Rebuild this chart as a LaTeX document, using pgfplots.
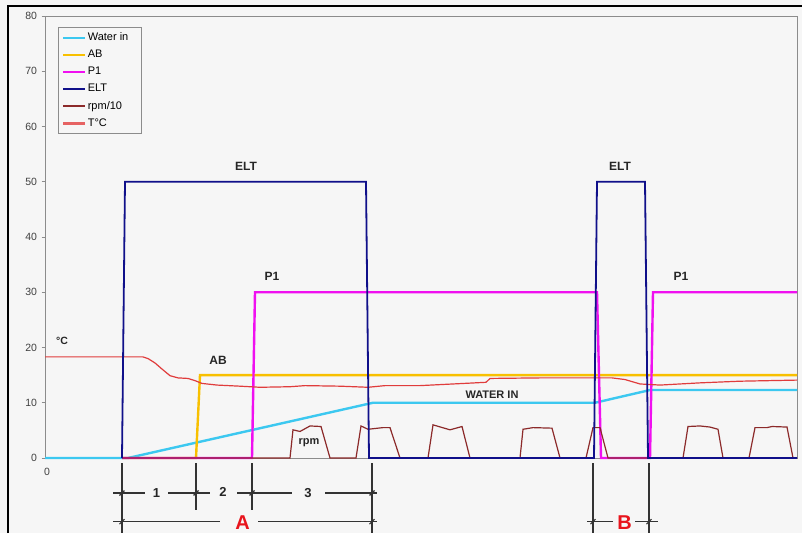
\documentclass[border=0pt]{standalone}
\usepackage{fontspec}
\setmainfont{Liberation Sans}
\usepackage{pgfplots}
\pgfplotsset{compat=1.18}
\definecolor{bg}{HTML}{F6F6F6}
\definecolor{cwater}{HTML}{3CC8F0}
\definecolor{cab}{HTML}{F8C000}
\definecolor{cpone}{HTML}{F010F0}
\definecolor{celt}{HTML}{10108A}
\definecolor{crpm}{HTML}{8C2A2A}
\definecolor{ctemp}{HTML}{E03C3C}
\definecolor{axgray}{HTML}{8C8C8C}
\definecolor{dimgray}{HTML}{333333}
\definecolor{lblred}{HTML}{E8141C}
\newcommand{\lf}{\fontsize{11}{13}\selectfont}
\begin{document}
\begin{tikzpicture}
\useasboundingbox (0pt,0pt) rectangle (802pt,533pt);
\fill[bg] (0pt,0pt) rectangle (802pt,533pt);
\draw[black, line width=1.6pt] (8pt,0pt) -- (8pt,527pt) -- (802pt,527pt);
\begin{axis}[
  at={(45pt,75pt)}, anchor=south west,
  scale only axis, width=752pt, height=442pt,
  xmin=45, xmax=797, ymin=0, ymax=80,
  clip=false,
  axis line style={draw=axgray, line width=1pt},
  ytick={0,10,...,80},
  ytick pos=left,
  xtick={45}, xticklabels={0},
  tick align=outside,
  major tick length=3.5pt,
  ytick style={draw=axgray, line width=0.8pt},
  xtick style={draw=none},
  xticklabel style={yshift=-3pt, xshift=2pt},
  yticklabel style={xshift=-1pt},
  tick label style={font=\fontsize{10.5}{12}\selectfont, text=black!75},
  /pgf/number format/assume math mode=true,
  legend style={at={(0.0173,0.975)}, anchor=north west, draw=axgray, line width=1.2pt, fill=bg,
    nodes={inner sep=1.5pt, text height=8pt, text depth=2.5pt},
    row sep=3.6pt, inner sep=3.5pt},
  legend cell align=left,
  legend image code/.code={\draw[#1,line width=2.2pt] (0pt,0pt) -- (22pt,0pt);},
]
% Water in
\addplot[cwater, line width=2.4pt, forget plot] coordinates {(45,0) (122,0) (128,0) (373,10) (595,10) (650,12.3) (797,12.3)};
% AB
\addplot[cab, line width=2.4pt, forget plot] coordinates {(122,0) (196,0) (200,15) (797,15)};
% P1
\addplot[cpone, line width=2.4pt, forget plot] coordinates {(122,0) (252,0) (255,30) (597,30) (601,0) (650,0) (653,30) (797,30)};
% rpm/10
\addplot[crpm, line width=1.2pt, forget plot] coordinates {
(122,0) (290,0) (293,5.1) (300,4.8) (310,5.8) (321,5.7) (330,0)
(356,0) (361,5.8) (368,5.2) (383,5.5) (390,5.5) (400,0)
(428,0) (433,6.0) (450,5.1) (462,5.7) (470,0)
(520,0) (523,5.2) (533,5.5) (552,5.4) (560,0)
(586,0) (593,5.5) (600,5.5) (608,0)
(683,0) (688,5.7) (700,5.8) (710,5.6) (718,5.2) (723,0)
(749,0) (755,5.5) (767,5.5) (772,5.7) (787,5.6) (793,0) (797,0)};
% T C
\addplot[ctemp, line width=1.2pt, forget plot] coordinates {
(45,18.3) (143,18.3) (148,18.0) (155,17.2) (162,16.1) (170,14.9) (178,14.5) (188,14.4) (195,14.0) (202,13.5) (217,13.2) (240,13.0) (260,12.8) (290,12.9) (305,13.1) (340,13.0) (368,12.8) (385,13.1) (420,13.1) (486,13.7) (490,14.4) (540,14.5) (612,14.5) (625,14.2) (640,13.4) (660,13.2) (700,13.6) (740,13.9) (797,14.1)};
% ELT
\addplot[celt, line width=1.8pt, forget plot] coordinates {(122,0) (125,50) (366,50) (369,0) (594,0) (597,50) (645,50) (648,0) (797,0)};

\addlegendimage{cwater}\addlegendentry{\lf Water in\hspace*{8pt}}
\addlegendimage{cab}\addlegendentry{\lf AB}
\addlegendimage{cpone}\addlegendentry{\lf P1}
\addlegendimage{celt}\addlegendentry{\lf ELT}
\addlegendimage{crpm}\addlegendentry{\lf rpm/10}
\addlegendimage{ctemp!80}\addlegendentry{\lf T°C}

\begin{scope}[every node/.style={font=\fontsize{12}{14}\selectfont\bfseries, text=black!85}]
\node at (axis cs:246,52.7) {ELT};
\node at (axis cs:620,52.7) {ELT};
\node at (axis cs:272,32.8) {P1};
\node at (axis cs:681,32.8) {P1};
\node[font=\fontsize{10.5}{12}\selectfont\bfseries] at (axis cs:62,21.2) {°C};
\node at (axis cs:218,17.7) {AB};
\node[font=\fontsize{11}{13}\selectfont\bfseries] at (axis cs:309,2.7) {rpm};
\node[font=\fontsize{11}{13}\selectfont\bfseries] at (axis cs:492,11.4) {WATER IN};
\end{scope}
\end{axis}
\begin{scope}[x=1pt, y=1pt, dimgray, line width=1.1pt]
% vertical extension lines
\draw (122,70) -- (122,0);
\draw (196,70) -- (196,23);
\draw (252,70) -- (252,23);
\draw (372,70) -- (372,0);
\draw (593,70) -- (593,0);
\draw (649,70) -- (649,0);
% dimension line 1-2-3
\draw (113,40) -- (145,40);
\draw (168,40) -- (210,40);
\draw (237,40) -- (292,40);
\draw (325,40) -- (377,40);
% dimension line A
\draw (113,11.3) -- (220,11.3);
\draw (258,11.3) -- (377,11.3);
% dimension line B
\draw (587,11.3) -- (613,11.3);
\draw (635,11.3) -- (658,11.3);
% slanted ticks
\foreach \xx/\yy in {122/40,196/40,252/40,372/40,122/11.3,372/11.3,593/11.3,649/11.3}
  \draw (\xx-2.5,\yy-2.5) -- (\xx+2.5,\yy+2.5);
\node[font=\fontsize{13}{15}\selectfont\bfseries, text=black!85] at (156.5,40) {1};
\node[font=\fontsize{13}{15}\selectfont\bfseries, text=black!85] at (223,41) {2};
\node[font=\fontsize{13}{15}\selectfont\bfseries, text=black!85] at (308,40) {3};
\node[font=\fontsize{20}{23}\selectfont\bfseries, text=lblred] at (242.5,10) {A};
\node[font=\fontsize{20}{23}\selectfont\bfseries, text=lblred] at (624.5,10) {B};
\end{scope}
\end{tikzpicture}
\end{document}
